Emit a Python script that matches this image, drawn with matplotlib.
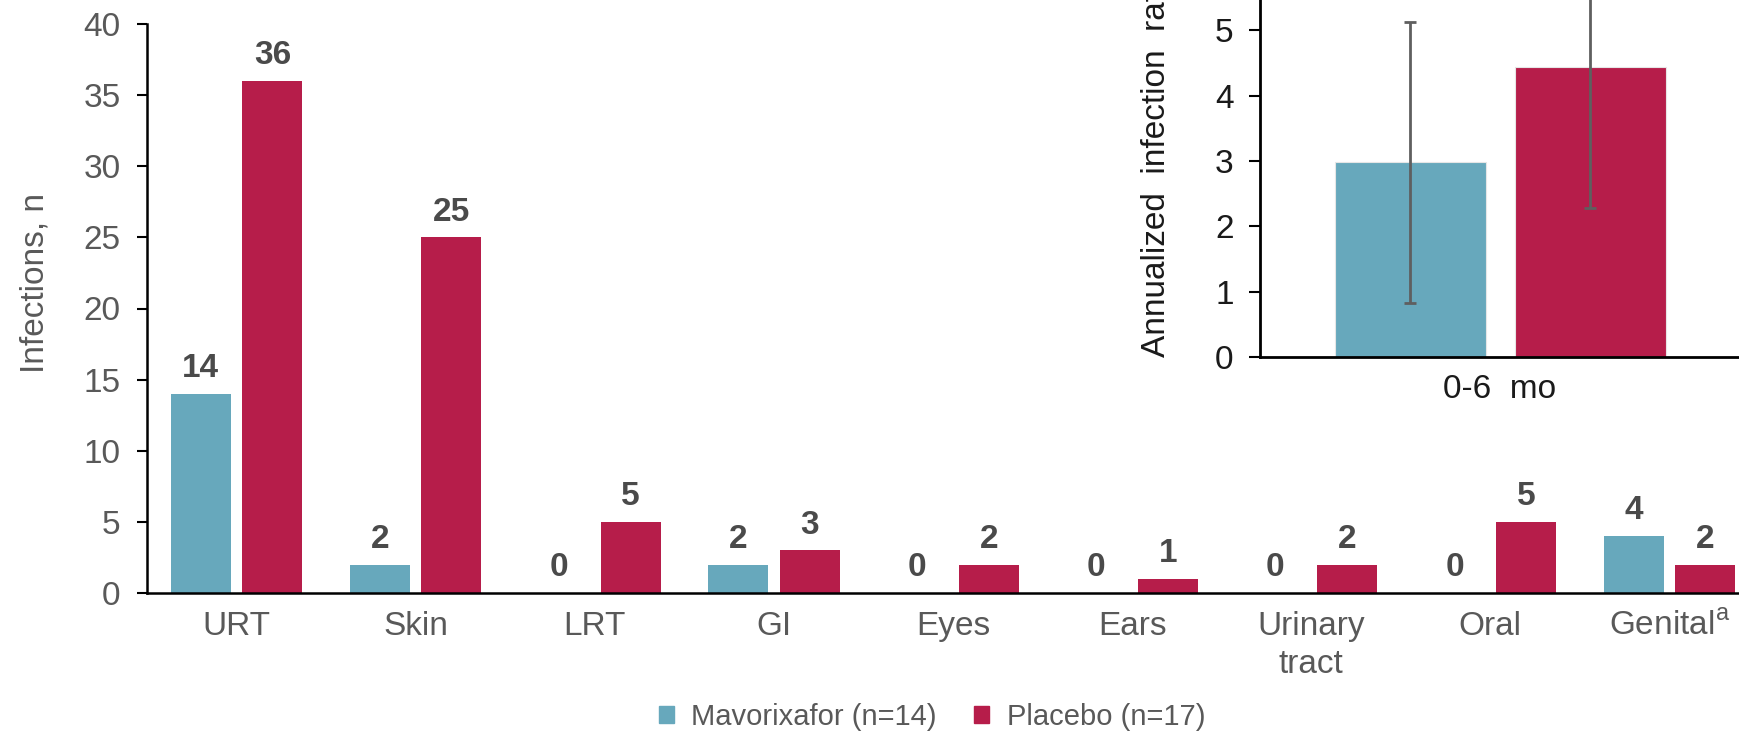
import numpy as np
import matplotlib
matplotlib.use("Agg")
import matplotlib.pyplot as plt
from matplotlib.patches import Patch

plt.rcParams['font.family'] = ['Liberation Sans', 'DejaVu Sans']
plt.rcParams['mathtext.fontset'] = 'custom'
plt.rcParams['mathtext.rm'] = 'Liberation Sans'

# main chart data
categories = ['URT', 'Skin', 'LRT', 'GI', 'Eyes', 'Ears', 'Urinary\ntract', 'Oral',
              'Genital$^{\\mathrm{a}}$']
mavorixafor = [14, 2, 0, 2, 0, 0, 0, 0, 4]
placebo = [36, 25, 5, 3, 2, 1, 2, 5, 2]

# inset data (annualized infection rate, 0-6 mo)
inset_period = ['0-6  mo']
inset_mav = [2.98]
inset_mav_lo = [0.83]
inset_mav_hi = [5.12]
inset_pla = [4.44]
inset_pla_lo = [2.28]
inset_pla_hi = [6.6]

legend_labels = ['Mavorixafor (n=14)', 'Placebo (n=17)']

TEAL = '#67A8BC'
CRIMSON = '#B61D4A'
GRAY = '#595959'
LABEL_GRAY = '#4a4a4a'
INK = '#1a1a1a'

W, H = 1740, 731
fig = plt.figure(figsize=(W / 100, H / 100), dpi=100)

# main axes (right edge runs past the figure, like the cropped source)
ax = fig.add_axes([147 / W, (H - 593) / H, 1612 / W, 569 / H])
x = np.arange(len(categories))
off, bw = 0.2, 0.335
ax.bar(x - off, mavorixafor, bw, color=TEAL)
ax.bar(x + off, placebo, bw, color=CRIMSON)

for xi, v in zip(x - off, mavorixafor):
    ax.annotate(str(v), (xi, v), xytext=(0, 12), textcoords='offset points',
                ha='center', va='baseline', fontsize=24, fontweight='bold',
                color=LABEL_GRAY)
for xi, v in zip(x + off, placebo):
    ax.annotate(str(v), (xi, v), xytext=(0, 12), textcoords='offset points',
                ha='center', va='baseline', fontsize=24, fontweight='bold',
                color=LABEL_GRAY)

ax.set_xlim(-0.5, 8.5)
ax.set_ylim(0, 40)
ax.set_yticks(range(0, 41, 5))
ax.set_xticks(x)
ax.set_xticklabels(categories)
for lbl in ax.get_xticklabels():
    lbl.set_linespacing(1.3)
ax.tick_params(axis='x', length=0, pad=13, labelsize=24, labelcolor=GRAY)
ax.tick_params(axis='y', length=7, width=1.5, pad=12, labelsize=24, labelcolor=GRAY)
for s in ['top', 'right']:
    ax.spines[s].set_visible(False)
for s in ['left', 'bottom']:
    ax.spines[s].set_linewidth(1.8)
    ax.spines[s].set_color('black')

fig.text(35 / W, (H - 283) / H, 'Infections, n', rotation=90, ha='center',
         va='center', fontsize=24, color=GRAY)

# inset axes (top and right run past the figure)
ax_in = fig.add_axes([1260 / W, (H - 357) / H, 500 / W, 392 / H])
xi = np.arange(len(inset_period))
unit = 503.0
ioff, ibw = 90 / unit, 151 / unit
mav_err = [[inset_mav[0] - inset_mav_lo[0]], [inset_mav_hi[0] - inset_mav[0]]]
pla_err = [[inset_pla[0] - inset_pla_lo[0]], [inset_pla_hi[0] - inset_pla[0]]]
ekw = dict(ecolor='#5f5f5f', elinewidth=2.0, capthick=2.0)
ax_in.bar(xi - ioff, inset_mav, ibw, color=TEAL, edgecolor='#e6e6e6', linewidth=0.8,
          yerr=mav_err, capsize=4, error_kw=ekw)
ax_in.bar(xi + ioff, inset_pla, ibw, color=CRIMSON, edgecolor='#e6e6e6', linewidth=0.8,
          yerr=pla_err, capsize=4, error_kw=ekw)
ax_in.set_xlim(-240 / unit, 260 / unit)
ax_in.set_ylim(0, 6)
ax_in.set_yticks(range(0, 7))
ax_in.set_xticks(xi)
ax_in.set_xticklabels(inset_period)
ax_in.tick_params(axis='x', length=0, pad=12, labelsize=24, labelcolor=INK)
ax_in.tick_params(axis='y', length=8, width=1.5, pad=11, labelsize=24, labelcolor=INK)
for s in ['top', 'right']:
    ax_in.spines[s].set_visible(False)
for s in ['left', 'bottom']:
    ax_in.spines[s].set_linewidth(2.0)
    ax_in.spines[s].set_color('black')

fig.text(1157 / W, (H - 357) / H, 'Annualized  infection  rate', rotation=90,
         ha='center', va='bottom', fontsize=24, color=INK)

# legend
handles = [Patch(color=TEAL), Patch(color=CRIMSON)]
fig.legend(handles, legend_labels, loc='center', bbox_to_anchor=(932 / W, 14 / H),
           ncol=2, frameon=False, fontsize=21, labelcolor=GRAY,
           handlelength=0.5, handleheight=0.5, handletextpad=0.6,
           columnspacing=1.3, borderpad=0)

fig.savefig('out.png', dpi=100)
